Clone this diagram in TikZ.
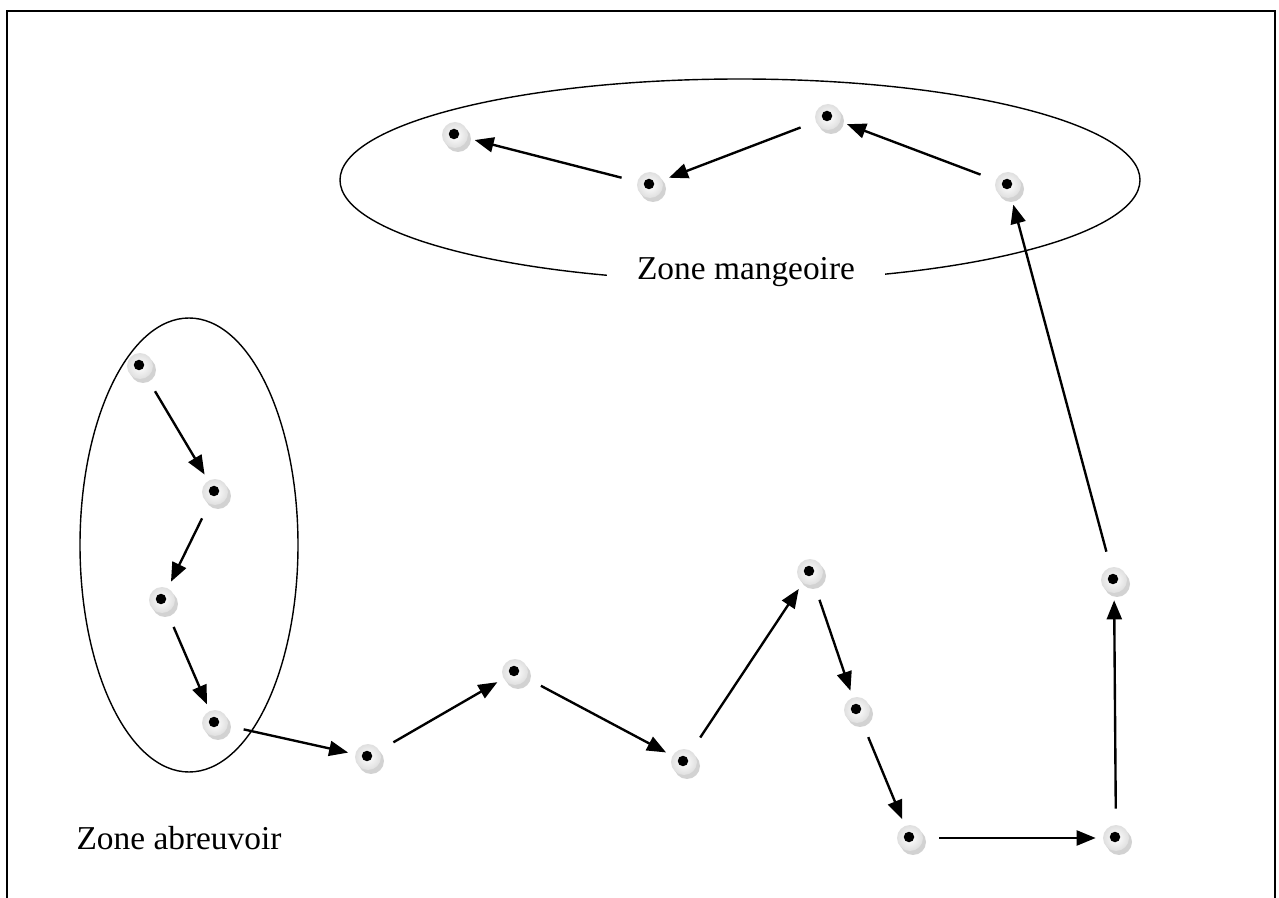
\documentclass[tikz,border=0pt]{standalone}
\usepackage{fontspec}
\setmainfont{Liberation Serif}
\usetikzlibrary{arrows.meta,shadows}

\tikzset{
  pion/.style={circle, minimum size=5.2mm, inner sep=0pt,
    inner color=white, outer color=gray!25,
    drop shadow={shadow xshift=0.6mm, shadow yshift=-0.8mm, fill=gray!35, opacity=1},
    path picture={\fill[black] ([shift={(-0.2mm,0.2mm)}]path picture bounding box.center) circle (1.05mm);}},
  fleche/.style={line width=1.35pt, -{Triangle[length=3.8mm,width=3mm]},
    shorten <=3.2mm, shorten >=1.4mm},
  zone/.style={draw, line width=0.8pt},
  legende/.style={font=\fontsize{19}{22}\selectfont}
}

\begin{document}
\begin{tikzpicture}[x=0.02cm, y=-0.02cm]
\useasboundingbox (0,0) rectangle (1279,898);
% cadre
\draw[line width=1.1pt] (7,898) -- (7,11) -- (1275,11) -- (1275,898);

% les deux zones
\draw[zone] (740,180) ellipse [x radius=400, y radius=101];
\draw[zone] (189,545) ellipse [x radius=109, y radius=227];
\node[legende, fill=white, inner xsep=0.6cm, inner ysep=1mm] (lmang) at (746,272) {Zone mangeoire};
\node[legende] (labr) at (179,838) {Zone abreuvoir};

% zone abreuvoir
\node[pion] (a1) at (140,366) {};
\node[pion] (a2) at (215,492) {};
\node[pion] (a3) at (162,600) {};
\node[pion] (a4) at (215,723) {};

% chemin
\node[pion] (c1) at (368,757) {};
\node[pion] (c2) at (515,672) {};
\node[pion] (c3) at (684,762) {};
\node[pion] (c4) at (810,572) {};
\node[pion] (c5) at (857,710) {};
\node[pion] (c6) at (910,838) {};
\node[pion] (c7) at (1116,838) {};
\node[pion] (c8) at (1114,580) {};

% zone mangeoire
\node[pion] (m1) at (1008,185) {};
\node[pion] (m2) at (828,117) {};
\node[pion] (m3) at (650,185) {};
\node[pion] (m4) at (455,135) {};

\foreach \i/\j in {a1/a2, a2/a3, a3/a4, a4/c1, c1/c2, c2/c3, c3/c4, c4/c5,
                   c5/c6, c6/c7, c7/c8, c8/m1, m1/m2, m2/m3, m3/m4}
  \draw[fleche] (\i) -- (\j);
\end{tikzpicture}
\end{document}
